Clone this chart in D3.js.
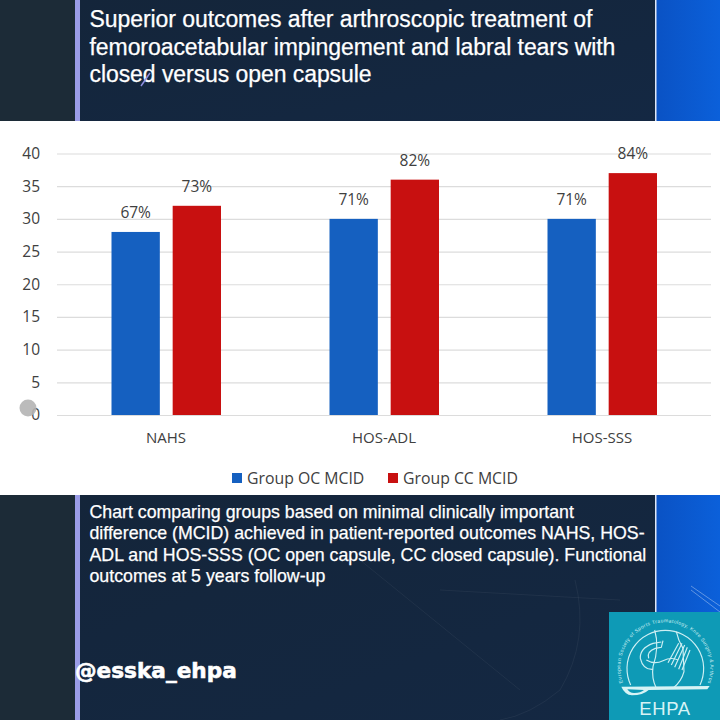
<!DOCTYPE html>
<html>

<head>
    <meta charset="utf-8">
    <title>Closed versus open capsule</title>
    <script src="https://d3js.org/d3.v7.min.js"></script>
    <style>
        html, body { margin: 0; padding: 0; background: #fff; }
        svg { display: block; }
        .head { font-family: "Liberation Sans", Arial, sans-serif; fill: #fff; stroke: #fff; stroke-width: 0.25; }
        .chart text { font-family: "Open Sans", "Noto Sans", sans-serif; fill: #404040; }
    </style>
</head>

<body>
    <div id="chart"></div>
    <script>
        // values
        var categories = ["NAHS", "HOS-ADL", "HOS-SSS"];
        var seriesNames = ["Group OC MCID", "Group CC MCID"];
        var groupOC = [28, 30, 30];
        var groupCC = [32, 36, 37];
        var labelsOC = ["67%", "71%", "71%"];
        var labelsCC = ["73%", "82%", "84%"];
        var yTicks = [0, 5, 10, 15, 20, 25, 30, 35, 40];
        var titleLines = [
            "Superior outcomes after arthroscopic treatment of",
            "femoroacetabular impingement and labral tears with",
            "closed versus open capsule"
        ];
        var noteLines = [
            "Chart comparing groups based on minimal clinically important",
            "difference (MCID) achieved in patient-reported outcomes NAHS, HOS-",
            "ADL and HOS-SSS (OC open capsule, CC closed capsule). Functional",
            "outcomes at 5 years follow-up"
        ];

        var colors = ["#1560c0", "#c81010"];

        var svg = d3.select("#chart").append("svg")
            .attr("width", 720)
            .attr("height", 720);

        var defs = svg.append("defs");

        var navy = defs.append("linearGradient").attr("id", "navy")
            .attr("x1", 0).attr("x2", 1).attr("y1", 0).attr("y2", 1);
        navy.append("stop").attr("offset", "0%").attr("stop-color", "#14253a");
        navy.append("stop").attr("offset", "100%").attr("stop-color", "#142843");

        var blue = defs.append("linearGradient").attr("id", "blue")
            .attr("x1", 0).attr("x2", 1).attr("y1", 0).attr("y2", 0);
        blue.append("stop").attr("offset", "0%").attr("stop-color", "#0a52c4");
        blue.append("stop").attr("offset", "100%").attr("stop-color", "#0b60da");

        // slide background, top and bottom strips
        [[0, 121], [495, 225]].forEach(function (s) {
            svg.append("rect").attr("x", 0).attr("y", s[0]).attr("width", 76).attr("height", s[1]).attr("fill", "#1c2b37");
            svg.append("rect").attr("x", 80).attr("y", s[0]).attr("width", 576).attr("height", s[1]).attr("fill", "url(#navy)");
            svg.append("rect").attr("x", 75).attr("y", s[0]).attr("width", 5).attr("height", s[1]).attr("fill", "#9a9ce6");
            svg.append("rect").attr("x", 656).attr("y", s[0]).attr("width", 64).attr("height", s[1]).attr("fill", "url(#blue)");
            svg.append("rect").attr("x", 655).attr("y", s[0]).attr("width", 1.5).attr("height", s[1]).attr("fill", "#dfe6f5");
        });

        // faint decoration lines on the bottom strip
        var deco = svg.append("g").attr("fill", "none").attr("stroke", "#ffffff").attr("stroke-opacity", 0.05);
        deco.append("path").attr("d", "M360 560 L520 690 M440 590 L620 600 M575 580 Q590 640 560 690 Q530 715 500 720");
        deco.append("path").attr("d", "M691 586 L720 606 M691 590 L720 612").attr("stroke-opacity", 0.35);

        // title
        svg.append("g").attr("class", "head").selectAll("text")
            .data(titleLines).enter().append("text")
            .attr("x", 89.5)
            .attr("y", function (d, i) { return 27 + i * 27.5; })
            .attr("font-size", 23)
            .attr("letter-spacing", -0.07)
            .text(function (d) { return d; });

        svg.append("path").attr("d", "M141 86 L150 73")
            .attr("stroke", "#8f8fe0").attr("stroke-width", 1.5).attr("fill", "none");

        // note under the chart
        svg.append("g").attr("class", "head").selectAll("text")
            .data(noteLines).enter().append("text")
            .attr("x", 89.5)
            .attr("y", function (d, i) { return 518 + i * 21.3; })
            .attr("font-size", 17.75)
            .text(function (d) { return d; });

        svg.append("text")
            .attr("x", 75)
            .attr("y", 678)
            .attr("font-family", "'DejaVu Sans', sans-serif")
            .attr("font-weight", "bold")
            .attr("font-size", 21.6)
            .attr("fill", "#fff")
            .attr("stroke", "#fff")
            .attr("stroke-width", 0.6)
            .text("@esska_ehpa");

        // chart panel
        svg.append("rect").attr("x", 0).attr("y", 121).attr("width", 720).attr("height", 374).attr("fill", "#fff");

        var chart = svg.append("g").attr("class", "chart");

        var x = d3.scaleBand().domain(categories).range([57, 711]);
        var x1 = d3.scaleBand().domain(seriesNames).range([54.5, 164]).paddingInner(0.21);
        var y = d3.scaleLinear().domain([0, 40]).range([415, 153.5]);

        // gridlines and y labels
        var yAxis = chart.append("g")
            .attr("transform", "translate(57,0)")
            .call(d3.axisLeft(y).tickValues(yTicks).tickSize(-654).tickPadding(17));
        yAxis.select(".domain").remove();
        yAxis.selectAll("line").attr("stroke", "#dcdcdc").attr("stroke-width", 1.2);
        yAxis.selectAll("text").attr("font-size", 15.5).style("fill", "#404040");

        var xAxis = chart.append("g")
            .attr("transform", "translate(0,415)")
            .call(d3.axisBottom(x).tickSize(0).tickPadding(17));
        xAxis.select(".domain").remove();
        xAxis.selectAll("text").attr("font-size", 15).style("fill", "#404040");

        var series = [
            { name: seriesNames[0], values: groupOC, labels: labelsOC, color: colors[0] },
            { name: seriesNames[1], values: groupCC, labels: labelsCC, color: colors[1] }
        ];

        series.forEach(function (s) {
            var g = chart.append("g");
            g.selectAll("rect")
                .data(categories).enter().append("rect")
                .attr("x", function (d) { return x(d) + x1(s.name); })
                .attr("y", function (d, i) { return y(s.values[i]); })
                .attr("width", x1.bandwidth())
                .attr("height", function (d, i) { return y(0) - y(s.values[i]); })
                .attr("fill", s.color);
            g.selectAll("text")
                .data(categories).enter().append("text")
                .attr("x", function (d) { return x(d) + x1(s.name) + x1.bandwidth() / 2; })
                .attr("y", function (d, i) { return y(s.values[i]) - 14; })
                .attr("text-anchor", "middle")
                .attr("font-size", 15.5)
                .text(function (d, i) { return s.labels[i]; });
        });

        // legend
        var legendX = [232, 388];
        var legend = chart.append("g").selectAll("g")
            .data(series).enter().append("g")
            .attr("transform", function (d, i) { return "translate(" + legendX[i] + ",473)"; });
        legend.append("rect").attr("width", 10).attr("height", 10).attr("fill", function (d) { return d.color; });
        legend.append("text").attr("x", 15).attr("y", 10.5).attr("font-size", 15.8)
            .text(function (d) { return d.name; });

        // grey pointer dot over the zero label
        svg.append("circle").attr("cx", 28).attr("cy", 408).attr("r", 8.5)
            .attr("fill", "#b4b4b4").attr("fill-opacity", 0.9);

        // EHPA logo, drawn at 3x so the shapes are easier to place
        svg.append("rect").attr("x", 609).attr("y", 612).attr("width", 111).attr("height", 108).attr("fill", "#0e9ab6");
        var logo = svg.append("g").attr("transform", "translate(608,610) scale(0.3333)");
        var ln = logo.append("g").attr("fill", "none").attr("stroke", "#cdeff3").attr("stroke-width", 3.5);
        ln.append("path").attr("d", "M68 225 A115 115 0 1 1 276 225");
        ln.append("path").attr("d", "M140 60 Q155 110 135 170 Q130 205 145 235");
        ln.append("path").attr("d", "M205 65 Q210 90 225 115 L228 185 Q220 215 195 235");
        ln.append("path").attr("d", "M160 96 L135 100 Q95 115 97 145 Q105 180 135 178 M165 92 L160 112 L142 115 Q115 125 122 145");
        ln.append("path").attr("d", "M115 150 Q140 165 165 152 Q190 140 210 150");
        ln.append("path").attr("d", "M190 165 L222 100 M200 172 L230 105 M212 178 L238 112 M222 180 L246 120 M180 158 L212 100");
        logo.append("path").attr("d", "M40 230 L305 228 L298 238 L122 240 Q105 256 72 256 Q50 254 40 230 Z M58 238 Q65 250 80 249 Q98 249 108 240 Z")
            .attr("fill", "#d6f3f5").attr("fill-rule", "evenodd");

        defs.append("path").attr("id", "ring").attr("d", "M45 218 A135 135 0 1 1 299 218");
        logo.append("text")
            .attr("font-family", "'Liberation Sans', sans-serif")
            .attr("font-size", 15)
            .attr("letter-spacing", 1.2)
            .attr("fill", "#cdeff3")
            .append("textPath")
            .attr("href", "#ring")
            .text("European Society of Sports Traumatology, Knee Surgery & Arthroscopy");
        svg.append("text")
            .attr("x", 665).attr("y", 715)
            .attr("text-anchor", "middle")
            .attr("font-family", "'Liberation Sans', sans-serif")
            .attr("font-size", 18.5)
            .attr("letter-spacing", 0.6)
            .attr("fill", "#d6f3f5")
            .text("EHPA");
    </script>
</body>

</html>
